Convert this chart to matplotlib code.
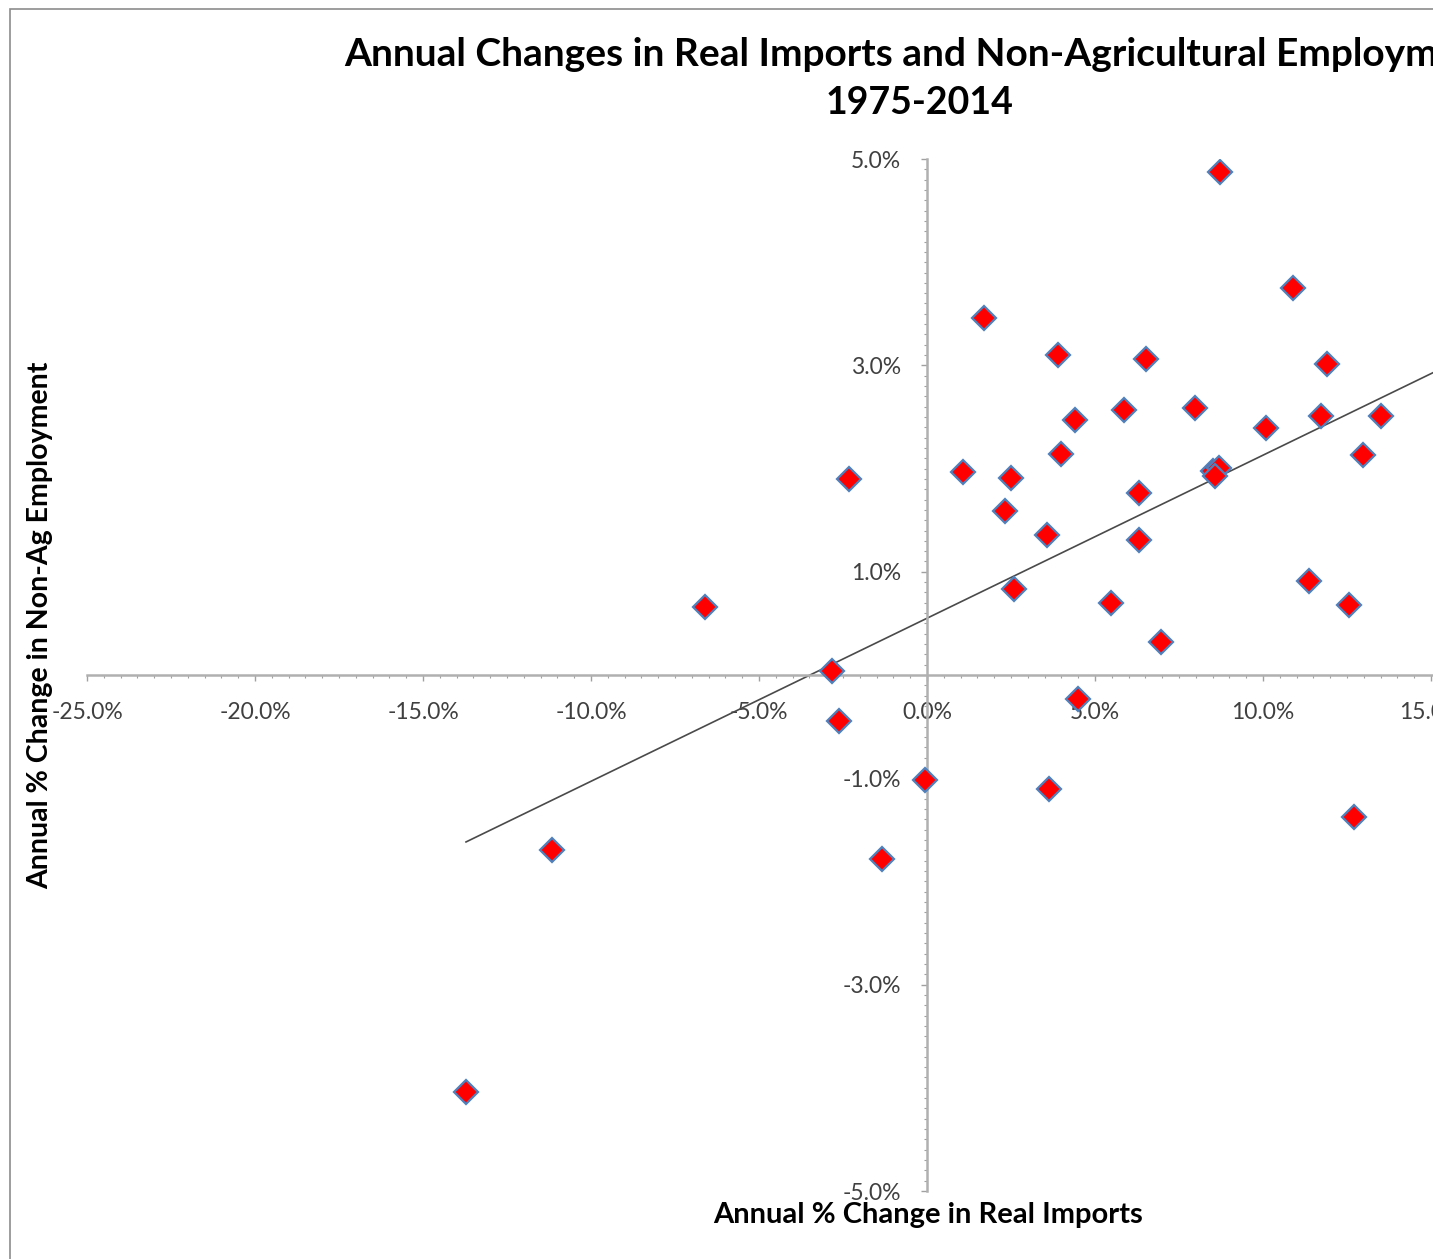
import matplotlib
matplotlib.use('Agg')
import matplotlib.pyplot as plt
from matplotlib.ticker import FuncFormatter, MultipleLocator
from matplotlib.patches import Rectangle

# Annual % change in real imports (x) and non-ag employment (y)
imports_chg = [8.72, 10.89, 1.70, 3.90, 6.52, 11.90, 5.86, 7.98, 4.40, 11.73,
               13.51, 10.09, 3.99, 12.98, 1.07, 2.50, -2.32, 8.51, 8.69, 8.57,
               6.31, 2.32, 3.57, 6.31, 11.37, 2.59, -6.61, 5.48, 12.56, 6.96,
               -2.83, 4.49, -2.62, -0.06, 3.63, 12.71, -11.16, -1.34, -13.72]
employ_chg = [4.87, 3.75, 3.46, 3.10, 3.06, 3.01, 2.57, 2.59, 2.47, 2.51,
              2.51, 2.39, 2.14, 2.13, 1.97, 1.91, 1.90, 1.98, 2.01, 1.93,
              1.76, 1.59, 1.36, 1.31, 0.91, 0.83, 0.66, 0.70, 0.68, 0.32,
              0.04, -0.23, -0.45, -1.02, -1.10, -1.38, -1.70, -1.78, -4.04]

# linear trendline as shown on the chart
trend_slope = 0.158
trend_intercept = 0.55

x_ticks = [-25, -20, -15, -10, -5, 0, 5, 10, 15]
y_ticks = [-5, -3, -1, 1, 3, 5]

FONT = 'Lato'
W, H = 1447, 1259
CROP = 1433  # the source picture is cut off here

fig = plt.figure(figsize=(W / 100, H / 100), dpi=100)
fig.patch.set_facecolor('white')

# chart frame (only left and top visible in the crop)
fig.patches.append(Rectangle((10 / W, -0.1), 1.2, 1.1 - 9 / H, transform=fig.transFigure,
                             fill=False, edgecolor='#8c8c8c', linewidth=1.2))

ax = fig.add_axes([87 / W, 68 / H, (CROP - 87) / W, (1191 - 159) / H])
xmax = -25 + (CROP - 87) / 33.6
ax.set_xlim(-25, xmax)
ax.set_ylim(-5, 5)

# trendline
x0 = min(imports_chg)
ax.plot([x0, xmax], [trend_intercept + trend_slope * x0, trend_intercept + trend_slope * xmax],
        color='#4a4a4a', linewidth=1.2, zorder=2, clip_on=False)

ax.plot(imports_chg, employ_chg, linestyle='none', marker='D', markersize=12,
        markerfacecolor='#ff0000', markeredgecolor='#4f81bd', markeredgewidth=1.6, zorder=3)

# axes crossing at zero
for s in ['top', 'right']:
    ax.spines[s].set_visible(False)
ax.spines['left'].set_position(('data', 0))
ax.spines['bottom'].set_position(('data', 0))
for s in ['left', 'bottom']:
    ax.spines[s].set_color('#b0b0b0')
    ax.spines[s].set_linewidth(1.8)

ax.xaxis.set_major_locator(plt.FixedLocator(x_ticks))
ax.yaxis.set_major_locator(plt.FixedLocator(y_ticks))
ax.xaxis.set_minor_locator(MultipleLocator(0.5))
ax.yaxis.set_minor_locator(MultipleLocator(0.1))
pct = FuncFormatter(lambda v, p: f'{v:.1f}%')
ax.xaxis.set_major_formatter(pct)
ax.yaxis.set_major_formatter(pct)
ax.tick_params(axis='both', which='major', length=4.5, width=1, color='#a0a0a0',
               labelsize=16.5, labelcolor='#404040', pad=15)
ax.tick_params(axis='both', which='minor', length=2, width=0.8, color='#a0a0a0')
ax.tick_params(axis='y', which='major', pad=14)
for lab in ax.get_xticklabels() + ax.get_yticklabels():
    lab.set_fontfamily(FONT)

ax.set_facecolor('none')

fig.text(920 / W, 1 - 55 / H, 'Annual Changes in Real Imports and Non-Agricultural Employment',
         ha='center', va='center', fontsize=28, fontweight='bold', family=FONT)
fig.text(920 / W, 1 - 103 / H, '1975-2014', ha='center', va='center',
         fontsize=27, fontweight='bold', family=FONT)
fig.text(928 / W, 1 - 1215 / H, 'Annual % Change in Real Imports', ha='center', va='center',
         fontsize=21, fontweight='bold', family=FONT)
fig.text(40 / W, 1 - 625 / H, 'Annual % Change in Non-Ag Employment', ha='center', va='center',
         rotation=90, fontsize=20.5, fontweight='bold', family=FONT)

# white margin where the source image is cropped
fig.patches.append(Rectangle((CROP / W, 0), 1, 1, transform=fig.transFigure,
                             facecolor='white', edgecolor='none', zorder=10))

fig.savefig('out.png', dpi=100, facecolor='white')
